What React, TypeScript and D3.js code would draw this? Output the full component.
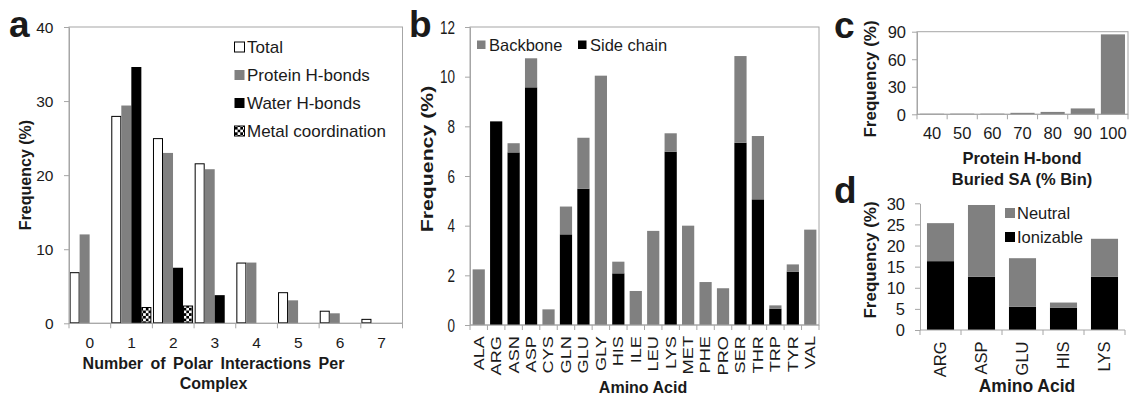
import React, { useEffect, useRef } from 'react'
import * as d3 from 'd3'

// panel a: polar interactions per complex
const polarCounts = ['0', '1', '2', '3', '4', '5', '6', '7']
const totalPct = [6.9, 28.0, 25.0, 21.6, 8.2, 4.2, 1.7, 0.6]
const proteinPct = [12.0, 29.4, 23.0, 20.8, 8.2, 3.1, 1.35, 0]
const waterPct = [0, 34.6, 7.5, 3.8, 0, 0, 0, 0]
const metalPct = [0, 2.2, 2.4, 0, 0, 0, 0, 0]
const polarSeries = ['Total', 'Protein H-bonds', 'Water H-bonds', 'Metal coordination']

// panel b: amino acid frequency, side chain vs backbone
const aminoAcids = ['ALA', 'ARG', 'ASN', 'ASP', 'CYS', 'GLN', 'GLU', 'GLY', 'HIS', 'ILE',
  'LEU', 'LYS', 'MET', 'PHE', 'PRO', 'SER', 'THR', 'TRP', 'TYR', 'VAL']
const sideChainPct = [0, 8.2, 6.95, 9.57, 0, 3.65, 5.49, 0, 2.08, 0,
  0, 6.98, 0, 0, 0, 7.34, 5.06, 0.66, 2.15, 0]
const backbonePct = [2.24, 0, 0.37, 1.17, 0.63, 1.12, 2.05, 10.04, 0.47, 1.37,
  3.79, 0.74, 4.0, 1.73, 1.48, 3.49, 2.55, 0.13, 0.29, 3.84]

// panel c: buried surface area bins
const buriedBins = ['40', '50', '60', '70', '80', '90', '100']
const buriedPct = [0.6, 0.7, 0.7, 1.6, 2.6, 6.4, 87.1]

// panel d: ionizable residues
const ionAcids = ['ARG', 'ASP', 'GLU', 'HIS', 'LYS']
const ionizablePct = [16.3, 12.6, 5.5, 5.3, 12.6]
const neutralPct = [9.0, 17.0, 11.5, 1.2, 9.0]

const AXIS = '#a6a6a6'
const GREY = '#808080'
const INK = '#1a1a1a'
const FONT = '"Liberation Sans", Arial, sans-serif'

type G = d3.Selection<SVGGElement, unknown, null, undefined>

function txt(g: G, x: number, y: number, s: string, size: number,
  o: { bold?: boolean; anchor?: string; rot?: boolean; stretch?: number; dy?: string } = {}) {
  const st = o.stretch ?? 1
  let tf = `translate(${x},${y})`
  if (o.rot) tf += ' rotate(-90)'
  if (st !== 1) tf += o.rot ? ` scale(${st},1)` : ` scale(1,${st})`
  return g.append('text')
    .attr('transform', tf)
    .attr('font-size', size)
    .attr('font-weight', o.bold ? 'bold' : 'normal')
    .attr('text-anchor', o.anchor ?? 'start')
    .attr('dy', o.dy ?? '0.35em')
    .attr('fill', INK)
    .text(s)
}

function yAxis(g: G, y: d3.ScaleLinear<number, number>, x: number, ticks: number[], size: number, pad: number, stretch = 1) {
  const ax = g.append('g')
    .attr('transform', `translate(${x},0)`)
    .call(d3.axisLeft(y).tickValues(ticks).tickSize(5).tickSizeOuter(0).tickPadding(pad))
  ax.attr('font-family', null).attr('font-size', null)
  ax.select('.domain').attr('stroke', AXIS)
  ax.selectAll('line').attr('stroke', AXIS)
  ax.selectAll('text')
    .attr('fill', INK)
    .attr('font-size', size)
    .attr('dy', '0.35em')
    .attr('transform', stretch !== 1 ? `scale(1,${stretch})` : null)
}

function xBase(g: G, x: d3.ScaleBand<string>, y0: number) {
  const step = x.step()
  const off = (step - x.bandwidth()) / 2
  const bounds = x.domain().map((d) => (x(d) as number) - off)
  bounds.push(bounds[bounds.length - 1] + step)
  g.append('line')
    .attr('x1', bounds[0]).attr('x2', bounds[bounds.length - 1])
    .attr('y1', y0).attr('y2', y0)
    .attr('stroke', AXIS)
  g.selectAll(null).data(bounds).join('line')
    .attr('x1', (d) => d).attr('x2', (d) => d)
    .attr('y1', y0).attr('y2', y0 + 5)
    .attr('stroke', AXIS)
}

function frame(g: G, x0: number, x1: number, y0: number, y1: number) {
  g.append('rect')
    .attr('x', x0).attr('y', y1).attr('width', x1 - x0).attr('height', y0 - y1)
    .attr('fill', 'none').attr('stroke', AXIS)
}

export default function App() {
  const ref = useRef<SVGSVGElement | null>(null)

  useEffect(() => {
    if (!ref.current) return
    const svg = d3.select(ref.current)
    svg.selectAll('*').remove()

    const defs = svg.append('defs')
    const pat = defs.append('pattern')
      .attr('id', 'checker')
      .attr('patternUnits', 'userSpaceOnUse')
      .attr('width', 5.4).attr('height', 5.4)
    pat.append('rect').attr('width', 5.4).attr('height', 5.4).attr('fill', '#fff')
    pat.append('rect').attr('width', 2.7).attr('height', 2.7).attr('fill', '#000')
    pat.append('rect').attr('x', 2.7).attr('y', 2.7).attr('width', 2.7).attr('height', 2.7).attr('fill', '#000')

    const root = svg.append('g').attr('font-family', FONT) as unknown as G

    // ---------- panel a ----------
    {
      const g = root.append('g') as G
      const x = d3.scaleBand<string>().domain(polarCounts).range([69, 402.5]).padding(0)
      const y = d3.scaleLinear().domain([0, 40]).range([323.3, 27])
      const sub = d3.scaleBand<string>().domain(polarSeries).range([0.6, x.bandwidth() - 1]).padding(0)
      frame(g, 69, 402.5, y(0), y(40))
      const series = [
        { key: polarSeries[0], values: totalPct, fill: '#fff', stroke: '#000' },
        { key: polarSeries[1], values: proteinPct, fill: GREY, stroke: 'none' },
        { key: polarSeries[2], values: waterPct, fill: '#000', stroke: 'none' },
        { key: polarSeries[3], values: metalPct, fill: 'url(#checker)', stroke: '#000' },
      ]
      series.forEach((s) => {
        const data = polarCounts.map((c, i) => ({ c, v: s.values[i] })).filter((d) => d.v > 0)
        const inset = s.stroke === 'none' ? 0 : 0.5
        g.selectAll(null).data(data).join('rect')
          .attr('x', (d) => (x(d.c) as number) + (sub(s.key) as number) + inset)
          .attr('y', (d) => y(d.v) + inset)
          .attr('width', sub.bandwidth() - inset * 2)
          .attr('height', (d) => Math.max(0, y(0) - y(d.v) - inset * 2))
          .attr('fill', s.fill)
          .attr('stroke', s.stroke)
          .attr('stroke-width', 1)
      })
      yAxis(g, y, 69, [0, 10, 20, 30, 40], 15.5, 10.5)
      xBase(g, x, y(0))
      polarCounts.forEach((c) => txt(g, (x(c) as number) + x.bandwidth() / 2, 343, c, 15.5, { anchor: 'middle' }))
      txt(g, 213.5, 363, 'Number of Polar Interactions Per', 16, { bold: true, anchor: 'middle' })
        .attr('word-spacing', 3)
      txt(g, 213.5, 383, 'Complex', 16, { bold: true, anchor: 'middle' })
      txt(g, 25, 175, 'Frequency (%)', 16, { bold: true, anchor: 'middle', rot: true })
      // legend
      series.forEach((s, i) => {
        const cy = 47 + i * 28
        g.append('rect')
          .attr('x', 234.5).attr('y', cy - 5).attr('width', 10).attr('height', 10)
          .attr('fill', s.fill).attr('stroke', s.stroke === 'none' ? 'none' : '#000')
        txt(g, 247, cy, s.key, 17)
      })
      txt(g, 9, 37, 'a', 37, { bold: true, dy: '0' })
    }

    // ---------- panel b ----------
    {
      const g = root.append('g') as G
      const x = d3.scaleBand<string>().domain(aminoAcids).range([470, 819]).paddingInner(0.3).paddingOuter(0.15)
      const y = d3.scaleLinear().domain([0, 12]).range([325, 27])
      frame(g, 470, 819, y(0), y(12))
      const stack = d3.stack<number>().keys(['side', 'back'])
        .value((i, k) => (k === 'side' ? sideChainPct[i] : backbonePct[i]))(aminoAcids.map((_, i) => i))
      const colors = ['#000', GREY]
      stack.forEach((layer, li) => {
        g.selectAll(null).data(layer.filter((d) => d[1] - d[0] > 0)).join('rect')
          .attr('x', (d) => x(aminoAcids[d.data]) as number)
          .attr('y', (d) => y(d[1]))
          .attr('width', x.bandwidth())
          .attr('height', (d) => y(d[0]) - y(d[1]))
          .attr('fill', colors[li])
      })
      yAxis(g, y, 470, [0, 2, 4, 6, 8, 10, 12], 13.5, 10, 1.3)
      xBase(g, x, y(0))
      aminoAcids.forEach((a) => txt(g, (x(a) as number) + x.bandwidth() / 2, 336, a, 14, { anchor: 'end', rot: true, stretch: 1.3 }))
      txt(g, 643, 387, 'Amino Acid', 16, { bold: true, anchor: 'middle' })
      txt(g, 427, 159, 'Frequency (%)', 16, { bold: true, anchor: 'middle', rot: true, stretch: 1.33 })
      const leg = [
        { label: 'Backbone', fill: GREY, x: 477 },
        { label: 'Side chain', fill: '#000', x: 578 },
      ]
      leg.forEach((l) => {
        g.append('rect').attr('x', l.x).attr('y', 40.5).attr('width', 8.5).attr('height', 8.5).attr('fill', l.fill)
        txt(g, l.x + 12, 45, l.label, 16.5)
      })
      txt(g, 409, 37, 'b', 37, { bold: true, dy: '0' })
    }

    // ---------- panel c ----------
    {
      const g = root.append('g') as G
      const x = d3.scaleBand<string>().domain(buriedBins).range([917, 1128]).paddingInner(0.2).paddingOuter(0.1)
      const y = d3.scaleLinear().domain([0, 90]).range([114.3, 31.7])
      frame(g, 917, 1128, y(0), y(90))
      g.selectAll(null).data(buriedBins.map((b, i) => ({ b, v: buriedPct[i] }))).join('rect')
        .attr('x', (d) => x(d.b) as number)
        .attr('y', (d) => y(d.v))
        .attr('width', x.bandwidth())
        .attr('height', (d) => y(0) - y(d.v))
        .attr('fill', GREY)
      yAxis(g, y, 917, [0, 30, 60, 90], 16.5, 6)
      xBase(g, x, y(0))
      buriedBins.forEach((b) => txt(g, (x(b) as number) + x.bandwidth() / 2, 133, b, 16.5, { anchor: 'middle' }))
      txt(g, 1022, 158, 'Protein H-bond', 16.5, { bold: true, anchor: 'middle' })
      txt(g, 1022, 179, 'Buried SA (% Bin)', 16.5, { bold: true, anchor: 'middle' })
      txt(g, 870, 79, 'Frequency (%)', 17, { bold: true, anchor: 'middle', rot: true })
      txt(g, 834, 38, 'c', 37, { bold: true, dy: '0' })
    }

    // ---------- panel d ----------
    {
      const g = root.append('g') as G
      const x = d3.scaleBand<string>().domain(ionAcids).range([920, 1125]).paddingInner(0.34).paddingOuter(0.17)
      const y = d3.scaleLinear().domain([0, 30]).range([330, 203.3])
      const stack = d3.stack<number>().keys(['ion', 'neu'])
        .value((i, k) => (k === 'ion' ? ionizablePct[i] : neutralPct[i]))(ionAcids.map((_, i) => i))
      const colors = ['#000', GREY]
      stack.forEach((layer, li) => {
        g.selectAll(null).data(layer).join('rect')
          .attr('x', (d) => x(ionAcids[d.data]) as number)
          .attr('y', (d) => y(d[1]))
          .attr('width', x.bandwidth())
          .attr('height', (d) => y(d[0]) - y(d[1]))
          .attr('fill', colors[li])
      })
      yAxis(g, y, 920, [0, 5, 10, 15, 20, 25, 30], 16.5, 10)
      xBase(g, x, y(0))
      ionAcids.forEach((a) => txt(g, (x(a) as number) + x.bandwidth() / 2, 341.5, a, 16.5, { anchor: 'end', rot: true }))
      txt(g, 1027, 386, 'Amino Acid', 17.5, { bold: true, anchor: 'middle' })
      txt(g, 870, 260, 'Frequency (%)', 17, { bold: true, anchor: 'middle', rot: true })
      const leg = [
        { label: 'Neutral', fill: GREY, cy: 213 },
        { label: 'Ionizable', fill: '#000', cy: 237 },
      ]
      leg.forEach((l) => {
        g.append('rect').attr('x', 1005).attr('y', l.cy - 5).attr('width', 10).attr('height', 10).attr('fill', l.fill)
        txt(g, 1017, l.cy, l.label, 16.5)
      })
      txt(g, 834, 203, 'd', 37, { bold: true, dy: '0' })
    }
  }, [])

  return (
    <svg
      ref={ref}
      width={1131}
      height={396}
      style={{ position: 'absolute', left: 0, top: 0, display: 'block', background: '#fff' }}
    />
  )
}
